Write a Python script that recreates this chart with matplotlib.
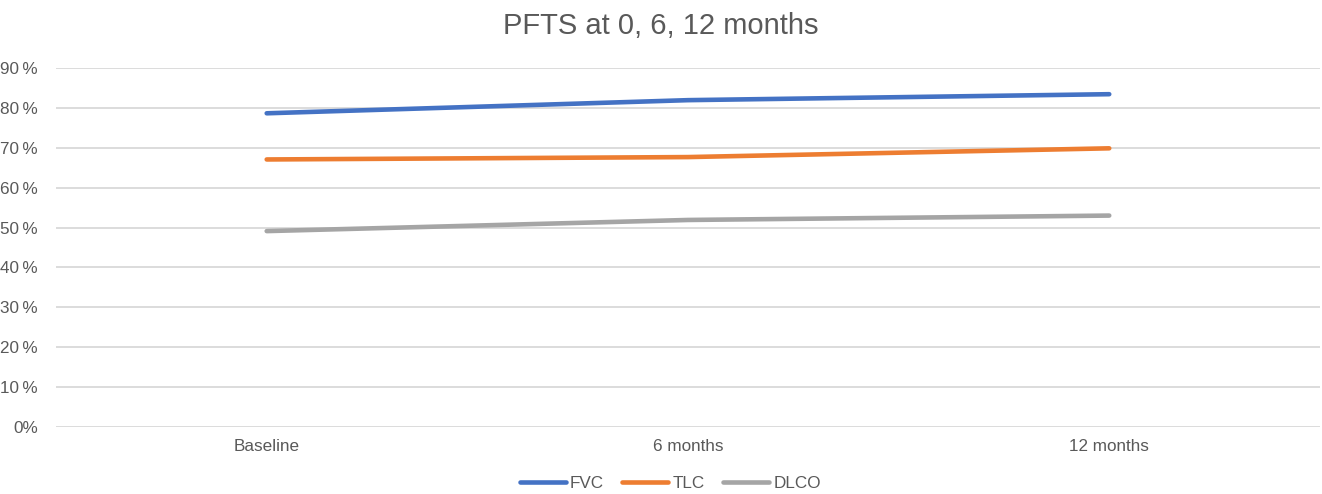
import matplotlib.pyplot as plt
from matplotlib.ticker import FuncFormatter

# Data
categories = ["Baseline", "6 months", "12 months"]
fvc = [78.7, 82.0, 83.5]
tlc = [67.1, 67.7, 69.9]
dlco = [49.1, 51.9, 53.0]
series = [("FVC", fvc, "#4472C4"), ("TLC", tlc, "#ED7D31"), ("DLCO", dlco, "#A5A5A5")]

plt.rcParams['font.family'] = ['Liberation Sans', 'DejaVu Sans']

fig = plt.figure(figsize=(13.22, 4.94), dpi=100)
ax = fig.add_axes([0.0424, 0.1366, 0.956, 0.7251])

x = list(range(len(categories)))
for name, vals, col in series:
    ax.plot(x, vals, color=col, lw=3.3, solid_capstyle='round', label=name, zorder=3)

ax.set_xlim(-0.5, len(categories) - 0.5)
ax.set_ylim(0, 90)
ax.set_yticks(range(0, 91, 10))
ax.yaxis.set_major_formatter(FuncFormatter(lambda v, p: "0%" if v == 0 else f"{int(v)}\u2009%"))
ax.set_xticks(x)
ax.set_xticklabels(categories)
ax.grid(axis='y', color='#d9d9d9', lw=1.3, zorder=0)
ax.set_axisbelow(True)
for s in ax.spines.values():
    s.set_visible(False)
ax.tick_params(axis='both', length=0, labelsize=12.3, colors='#595959')
ax.tick_params(axis='y', pad=13)
ax.tick_params(axis='x', pad=9)

fig.suptitle("PFTS at 0, 6, 12 months", y=0.975, fontsize=21, color='#595959')

leg = fig.legend(loc='center', bbox_to_anchor=(0.507, 0.022), ncol=3, frameon=False,
                 fontsize=12.3, handlelength=2.7, handletextpad=0.25, columnspacing=1.05)
for t in leg.get_texts():
    t.set_color('#595959')

fig.savefig("out.png", dpi=100)
